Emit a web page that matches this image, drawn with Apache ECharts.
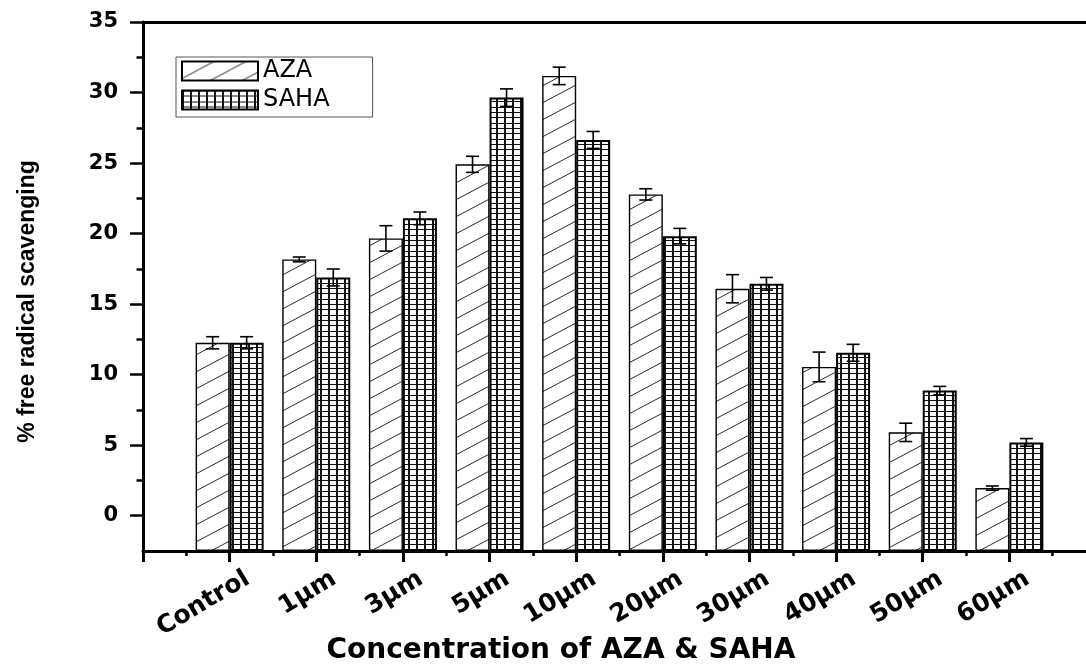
<!DOCTYPE html>
<html>
<head>
<meta charset="utf-8">
<title>% free radical scavenging — AZA &amp; SAHA</title>
<script src="https://cdn.jsdelivr.net/npm/echarts@6/dist/echarts.min.js"></script>
<style>
  html, body { margin: 0; padding: 0; background: #fff; }
  #chart { width: 1086px; height: 664px; }
</style>
</head>
<body>
<div id="chart"></div>
<script>
// Concentration groups on the x axis
const categories = ['Control', '1µm', '3µm', '5µm', '10µm', '20µm', '30µm', '40µm', '50µm', '60µm'];

// % free radical scavenging, mean and error per group
const aza      = [12.26, 18.17, 19.66, 24.91, 31.18, 22.78, 16.09, 10.55, 5.91, 1.96];
const azaErr   = [0.43, 0.17, 0.90, 0.57, 0.62, 0.40, 1.00, 1.05, 0.65, 0.15];
const saha     = [12.26, 16.89, 21.08, 29.64, 26.64, 19.82, 16.44, 11.55, 8.87, 5.20];
const sahaErr  = [0.43, 0.60, 0.45, 0.62, 0.60, 0.55, 0.45, 0.60, 0.30, 0.27];

// y-axis tick values
const yMajorTicks = [0, 5, 10, 15, 20, 25, 30, 35];
const yMinorTicks = [2.5, 7.5, 12.5, 17.5, 22.5, 27.5, 32.5];

const BAR_W = 34;

// Diagonal hatch fill
function hatchPattern() {
  const w = 32, h = 17;
  const c = document.createElement('canvas');
  c.width = w; c.height = h;
  const g = c.getContext('2d');
  g.fillStyle = '#fff';
  g.fillRect(0, 0, w, h);
  g.strokeStyle = '#2a2a2a';
  g.lineWidth = 1;
  for (const dy of [-h, 0, h]) {
    g.beginPath();
    g.moveTo(-2, h + dy + 2 * h / w);
    g.lineTo(w + 2, dy - 2 * h / w);
    g.stroke();
  }
  return c;
}

// Square grid fill
function gridPattern() {
  const w = 8, h = 16;
  const c = document.createElement('canvas');
  c.width = w; c.height = h;
  const g = c.getContext('2d');
  g.fillStyle = '#fff';
  g.fillRect(0, 0, w, h);
  g.fillStyle = '#111';
  g.fillRect(0, 0, 2, h);
  g.fillRect(0, 0, w, 1);
  g.fillRect(0, 5, w, 1);
  g.fillRect(0, 11, w, 1);
  return c;
}

function errorBars(values, errors, shift) {
  return {
    type: 'custom',
    xAxisIndex: 0,
    yAxisIndex: 0,
    z: 5,
    silent: true,
    encode: { x: 0, y: 1 },
    data: values.map((v, i) => [i + 1, v, errors[i]]),
    renderItem: function (params, api) {
      const x = api.value(0), v = api.value(1), e = api.value(2);
      const hi = api.coord([x, v + e]);
      const lo = api.coord([x, v - e]);
      const cx = hi[0] + shift;
      const cap = 6.5;
      const style = { stroke: '#000', lineWidth: 1.6 };
      return {
        type: 'group',
        children: [
          { type: 'line', shape: { x1: cx, y1: hi[1], x2: cx, y2: lo[1] }, style },
          { type: 'line', shape: { x1: cx - cap, y1: hi[1], x2: cx + cap, y2: hi[1] }, style },
          { type: 'line', shape: { x1: cx - cap, y1: lo[1], x2: cx + cap, y2: lo[1] }, style }
        ]
      };
    }
  };
}

const chart = echarts.init(document.getElementById('chart'), null, { renderer: 'canvas' });

const labelFont = 'DejaVu Sans';

chart.setOption({
  backgroundColor: '#fff',
  animation: false,
  grid: [
    { left: 143, right: -10, top: 22, bottom: 113, outerBoundsMode: 'none' },
    // carries the category labels, set a little to the right of the ticks
    { left: 161, right: -28, top: 22, bottom: 113, outerBoundsMode: 'none' }
  ],
  legend: {
    orient: 'vertical',
    left: 176,
    top: 57,
    icon: 'rect',
    itemWidth: 76,
    itemHeight: 19,
    itemGap: 5,
    padding: [2, 43, 5, 5],
    borderColor: '#555',
    borderWidth: 1,
    textStyle: { fontFamily: labelFont, fontSize: 24, color: '#000' },
    data: ['AZA', 'SAHA']
  },
  xAxis: [
    {
      gridIndex: 0, type: 'value', position: 'bottom',
      min: 0, max: 11, interval: 1,
      axisLine: { show: true, onZero: false, lineStyle: { color: '#000', width: 3 } },
      axisTick: { show: true, length: 11, lineStyle: { color: '#000', width: 3 } },
      minorTick: { show: true, splitNumber: 2, length: 5, lineStyle: { color: '#000', width: 2.5 } },
      axisLabel: { show: false },
      splitLine: { show: false },
      minorSplitLine: { show: false },
      name: 'Concentration of AZA & SAHA',
      nameLocation: 'middle',
      nameGap: 100,
      nameTextStyle: {
        fontFamily: labelFont, fontWeight: 'bold', fontSize: 28, color: '#000',
        verticalAlign: 'middle', padding: [0, 117, 0, 0]
      }
    },
    {
      gridIndex: 0, type: 'value', position: 'top',
      min: 0, max: 11,
      axisLine: { show: true, onZero: false, lineStyle: { color: '#000', width: 3 } },
      axisTick: { show: false },
      axisLabel: { show: false },
      splitLine: { show: false }
    },
    {
      gridIndex: 1, type: 'value', position: 'bottom',
      min: 0, max: 11, interval: 1,
      axisLine: { show: false },
      axisTick: { show: false },
      splitLine: { show: false },
      axisLabel: {
        show: true,
        rotate: 31,
        margin: 26,
        fontFamily: labelFont, fontWeight: 'bold', fontSize: 25, color: '#000',
        formatter: v => (v >= 1 && v <= categories.length) ? categories[v - 1] : ''
      }
    }
  ],
  yAxis: [
    {
      gridIndex: 0, type: 'value', position: 'left',
      min: -2.5, max: 35, startValue: -2.5,
      axisLine: { show: true, onZero: false, lineStyle: { color: '#000', width: 3 } },
      axisTick: { show: true, customValues: yMajorTicks, length: 13, lineStyle: { color: '#000', width: 2.5 } },
      axisLabel: {
        show: true, customValues: yMajorTicks, margin: 25,
        fontFamily: labelFont, fontWeight: 'bold', fontSize: 21, color: '#000'
      },
      splitLine: { show: false },
      name: '% free radical scavenging',
      nameLocation: 'middle',
      nameGap: 115,
      nameTextStyle: {
        fontFamily: 'Liberation Sans', fontWeight: 'bold', fontSize: 23, color: '#000',
        verticalAlign: 'middle', padding: [0, 30, 0, 0]
      }
    },
    {
      gridIndex: 0, type: 'value', position: 'left',
      min: -2.5, max: 35,
      axisLine: { show: false },
      axisTick: { show: true, customValues: yMinorTicks, length: 6.5, lineStyle: { color: '#000', width: 2.5 } },
      axisLabel: { show: false },
      splitLine: { show: false }
    },
    {
      gridIndex: 1, type: 'value', show: false, min: -2.5, max: 35
    }
  ],
  series: [
    {
      name: 'AZA',
      type: 'bar',
      xAxisIndex: 0, yAxisIndex: 0,
      barWidth: BAR_W,
      barGap: '0%',
      itemStyle: { color: { image: hatchPattern(), repeat: 'repeat' }, borderColor: '#000', borderWidth: 1.4 },
      data: aza.map((v, i) => [i + 1, v])
    },
    {
      name: 'SAHA',
      type: 'bar',
      xAxisIndex: 0, yAxisIndex: 0,
      barWidth: BAR_W,
      barGap: '0%',
      itemStyle: { color: { image: gridPattern(), repeat: 'repeat' }, borderColor: '#000', borderWidth: 2 },
      data: saha.map((v, i) => [i + 1, v])
    },
    errorBars(aza, azaErr, -BAR_W / 2),
    errorBars(saha, sahaErr, BAR_W / 2)
  ]
});
</script>
</body>
</html>
